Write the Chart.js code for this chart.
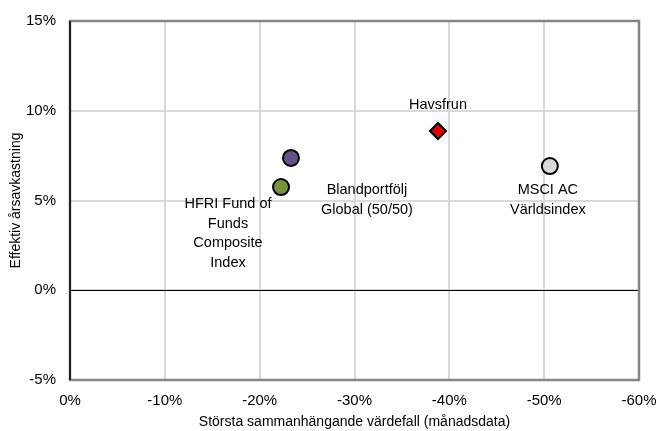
<!DOCTYPE html>
<html><head><meta charset="utf-8">
<script src="https://cdn.jsdelivr.net/npm/chart.js@4/dist/chart.umd.min.js"></script>
<style>html,body{margin:0;padding:0;background:#fff}#c{display:block}</style>
</head><body>
<canvas id="c" width="658" height="431"></canvas>
<script>
const names = ["HFRI Fund of Funds Composite Index", "Blandportfölj Global (50/50)", "Havsfrun", "MSCI AC Världsindex"];
const labelLines = [["HFRI Fund of","Funds","Composite","Index"], ["Blandportfölj","Global (50/50)"], ["Havsfrun"], ["MSCI AC","Världsindex"]];
const drawdown = [-22.25, -23.3, -38.8, -50.6];
const annualReturn = [5.75, 7.37, 8.87, 6.92];
const colors = ["#77933C", "#65518A", "#E00000", "#D9D9D9"];
const shapes = ["circle", "circle", "rectRot", "circle"];
const xTicks = [0, -10, -20, -30, -40, -50, -60];
const yTicks = [-5, 0, 5, 10, 15];
// label offsets (px) relative to point
const labelOffsets = [[-53, 17], [76, 32], [0, -26], [-2, 24]];

const datasets = names.map((n, i) => ({
  label: n,
  data: [{x: drawdown[i], y: annualReturn[i]}],
  backgroundColor: colors[i],
  borderColor: "#000",
  borderWidth: 2,
  pointStyle: shapes[i],
  pointRadius: 8,
  pointHoverRadius: 8
}));

const FONT = "'Liberation Sans', Arial, sans-serif";

const labelPlugin = {
  id: "labels",
  afterDatasetsDraw(chart) {
    const ctx = chart.ctx;
    ctx.save();
    ctx.font = "14.5px " + FONT;
    ctx.fillStyle = "#000";
    ctx.textAlign = "center";
    ctx.textBaseline = "middle";
    const xs = chart.scales.x, ys = chart.scales.y;
    names.forEach((n, i) => {
      const px = xs.getPixelForValue(drawdown[i]);
      const py = ys.getPixelForValue(annualReturn[i]);
      labelLines[i].forEach((l, j) => {
        ctx.fillText(l, px + labelOffsets[i][0], py + labelOffsets[i][1] + j * 19.7);
      });
    });
    ctx.restore();
  },
  beforeDatasetsDraw(chart) {
    const ctx = chart.ctx, a = chart.chartArea;
    ctx.save();
    const y0 = chart.scales.y.getPixelForValue(0);
    ctx.strokeStyle = "#000"; ctx.lineWidth = 1;
    ctx.beginPath(); ctx.moveTo(a.left, Math.round(y0)+0.5); ctx.lineTo(a.right, Math.round(y0)+0.5); ctx.stroke();
    ctx.strokeStyle = "#868686"; ctx.lineWidth = 2.5;
    ctx.strokeRect(a.left, a.top, a.right - a.left, a.bottom - a.top);
    ctx.strokeStyle = "#000"; ctx.lineWidth = 1.5;
    ctx.beginPath(); ctx.moveTo(a.left, a.top); ctx.lineTo(a.left, a.bottom); ctx.stroke();
    ctx.restore();
  }
};

Chart.defaults.font.family = FONT;
Chart.defaults.font.size = 15;
Chart.defaults.color = "#000";

new Chart(document.getElementById("c"), {
  type: "scatter",
  data: { datasets },
  options: {
    responsive: false,
    animation: false,
    layout: { padding: { top: 21, right: 19, left: 0, bottom: 0 } },
    plugins: { legend: { display: false }, tooltip: { enabled: false } },
    scales: {
      x: {
        type: "linear", reverse: true, min: -60, max: 0,
        afterBuildTicks(s) { s.ticks = xTicks.map(v => ({value: v})); },
        afterFit(s) { s.height = 51; s.paddingLeft = 0; s.paddingRight = 0; },
        ticks: { callback: v => v + "%", padding: 12, font: { size: 15 } },
        grid: { color: "#D9D9D9", lineWidth: 2, drawTicks: false },
        border: { display: false },
        title: { display: true, text: "Största sammanhängande värdefall (månadsdata)", font: { size: 14 }, padding: { top: 8, bottom: 0 } }
      },
      y: {
        type: "linear", min: -5, max: 15,
        afterBuildTicks(s) { s.ticks = yTicks.map(v => ({value: v})); },
        afterFit(s) { s.width = 70; s.paddingTop = 0; s.paddingBottom = 0; },
        ticks: { callback: v => v + "%", padding: 14, font: { size: 15 } },
        grid: { color: "#D9D9D9", lineWidth: 2, drawTicks: false },
        border: { display: false },
        title: { display: true, text: "Effektiv årsavkastning", font: { size: 14 }, padding: { top: 8, bottom: 4 } }
      }
    }
  },
  plugins: [labelPlugin]
});
</script>
</body></html>
